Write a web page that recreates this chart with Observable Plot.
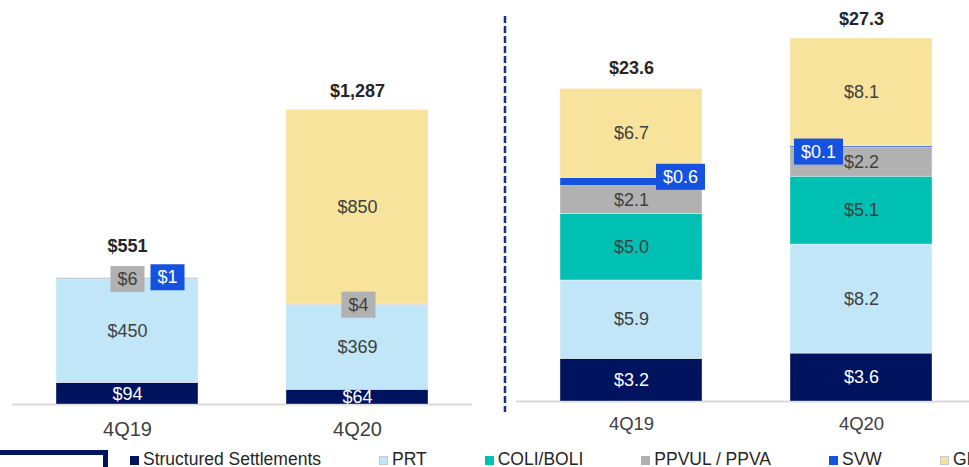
<!DOCTYPE html>
<html><head><meta charset="utf-8">
<script src="https://cdn.jsdelivr.net/npm/d3@7"></script>
<script src="https://cdn.jsdelivr.net/npm/@observablehq/plot@0.6"></script>
<style>
html,body{margin:0;padding:0;background:#fff;}
#wrap{position:relative;width:969px;height:467px;overflow:hidden;font-family:"Liberation Sans",Arial,sans-serif;}
#wrap svg.panel{position:absolute;left:0;top:0;}
#legend{position:absolute;left:130px;top:449px;display:flex;gap:58px;font-size:17.5px;color:#262626;white-space:nowrap;}
#legend .item{display:flex;align-items:center;}
#legend .sw{width:9px;height:9px;box-sizing:border-box;margin-right:4px;margin-top:2px;}
#logo{position:absolute;left:-5px;top:450px;width:113px;height:40px;border:5px solid #00135f;box-sizing:border-box;}
#divider{position:absolute;left:0;top:0;}
</style></head><body>
<div id="wrap"></div>
<script>
// ---- data ----
const categories = ["4Q19", "4Q20"];
const series = ["Structured Settlements", "PRT", "COLI/BOLI", "PPVUL / PPVA", "SVW", "GI"];
const colors = ["#00135f", "#c1e6f7", "#00bfb3", "#b1b1b1", "#1652e0", "#f7e39b"];
// values per series, in category order (left panel)
const leftValues = [
  [94, 64],    // Structured Settlements
  [450, 369],  // PRT
  [0, 0],      // COLI/BOLI
  [6, 4],      // PPVUL / PPVA
  [1, 0],      // SVW
  [0, 850]     // GI
];
const leftTotals = [551, 1287];
const leftTotalLabels = ["$551", "$1,287"];
// right panel
const rightValues = [
  [3.2, 3.6],
  [5.9, 8.2],
  [5.0, 5.1],
  [2.1, 2.2],
  [0.6, 0.1],
  [6.7, 8.1]
];
const rightTotals = [23.6, 27.3];
const rightTotalLabels = ["$23.6", "$27.3"];

// ---- style / layout config ----
const FONT = '"Liberation Sans", Arial, sans-serif';
const W = 969, H = 467;
const boxed = {
  left: {
    "4Q19|PPVUL / PPVA": {dx: 0, dy: 0, fill: "#b1b1b1", text: "#404040"},
    "4Q19|SVW": {dx: 40, dy: -1, fill: "#1652e0", text: "#ffffff"},
    "4Q20|PPVUL / PPVA": {dx: 1, dy: 0, fill: "#b1b1b1", text: "#404040"}
  },
  right: {
    "4Q19|SVW": {dx: 49, dy: -5, fill: "#1652e0", text: "#ffffff"},
    "4Q20|SVW": {dx: -43, dy: 5, fill: "#1652e0", text: "#ffffff"}
  }
};

function rowsFrom(values) {
  const rows = [];
  series.forEach((s, i) => categories.forEach((c, j) => rows.push({cat: c, series: s, value: values[i][j]})));
  return rows;
}

function panel(opts) {
  const {values, fmt, yMax, baseline, marginLeft, marginRight, range, totals, totalLabels, totalDy, axisFont, axisPad, boxes} = opts;
  const rows = rowsFrom(values);
  const key = d => d.cat + "|" + d.series;
  const stack = o => Plot.stackY({x: "cat", y: "value", z: "series", ...o});
  const marks = [
    Plot.ruleY([0], {stroke: "#d9d9d9", strokeWidth: 2}),
    Plot.barY(rows, {x: "cat", y: "value", fill: "series", stroke: "#ffffff", strokeOpacity: 0.45, strokeWidth: 0.8}),
    Plot.text(rows, stack({
      text: d => (d.value === 0 || boxes[key(d)] || d.series !== series[0]) ? null : fmt(d.value),
      fill: "#ffffff", fontSize: 18, fontFamily: FONT
    })),
    Plot.text(rows, stack({
      text: d => (d.value === 0 || boxes[key(d)] || d.series === series[0]) ? null : fmt(d.value),
      fill: "#404040", fontSize: 18, fontFamily: FONT
    }))
  ];
  Object.entries(boxes).forEach(([k, b]) => {
    marks.push(Plot.text(rows, stack({
      text: d => key(d) === k ? fmt(d.value) : null,
      dx: b.dx, dy: b.dy, fill: b.text, fontSize: 18, fontFamily: FONT,
      ariaDescription: "boxlabel " + b.fill
    })));
  });
  categories.forEach((c, j) => {
    marks.push(Plot.text([j], {
      x: () => c, y: () => totals[j], text: () => totalLabels[j],
      dy: totalDy[j], fontWeight: "bold", fontSize: 18, fill: "#262626", fontFamily: FONT
    }));
  });
  return Plot.plot({
    width: W, height: H,
    marginTop: 0, marginBottom: H - baseline, marginLeft, marginRight,
    style: {background: "transparent", fontFamily: FONT, fontSize: axisFont + "px", color: "#404040", overflow: "visible"},
    x: {domain: categories, paddingInner: 0.383, paddingOuter: 0.191, ...(range ? {range} : {}), tickSize: 0, tickPadding: axisPad, label: null},
    y: {domain: [0, yMax], axis: null},
    color: {domain: series, range: colors},
    marks
  });
}

const wrap = document.getElementById("wrap");

const left = panel({
  values: leftValues, fmt: v => "$" + d3.format(",")(v),
  yMax: 1765, baseline: 404, marginLeft: 12, marginRight: W - 472,
  totals: leftTotals, totalLabels: leftTotalLabels, totalDy: [-32, -19],
  axisFont: 20, axisPad: 17, boxes: boxed.left
});
const right = panel({
  values: rightValues, fmt: v => "$" + v.toFixed(1),
  yMax: 401 / 13.3, baseline: 401, marginLeft: 516, marginRight: 0, range: [516, 976],
  totals: rightTotals, totalLabels: rightTotalLabels, totalDy: [-19, -19],
  axisFont: 18.5, axisPad: 15.5, boxes: boxed.right
});
[left, right].forEach(svg => { svg.classList.add("panel"); wrap.appendChild(svg); });

// background boxes behind highlighted small labels (sized from the rendered text)
[left, right].forEach(svg => {
  svg.querySelectorAll("g").forEach(g => {
    const desc = g.getAttribute("aria-description") || "";
    if (!desc.startsWith("boxlabel")) return;
    const fill = desc.split(" ")[1];
    g.querySelectorAll("text").forEach(t => {
      const bb = t.getBBox();
      const r = document.createElementNS("http://www.w3.org/2000/svg", "rect");
      const padX = 7, h = 26;
      r.setAttribute("x", bb.x - padX);
      r.setAttribute("y", bb.y + bb.height / 2 - h / 2);
      r.setAttribute("width", bb.width + 2 * padX);
      r.setAttribute("height", h);
      r.setAttribute("fill", fill);
      const tr = t.getAttribute("transform");
      if (tr) r.setAttribute("transform", tr);
      t.parentNode.insertBefore(r, t);
    });
  });
});

// divider
const div = d3.select(wrap).append("svg").attr("id", "divider").attr("width", W).attr("height", H);
div.append("line").attr("x1", 505).attr("x2", 505).attr("y1", 16).attr("y2", 412)
  .attr("stroke", "#1b2f86").attr("stroke-width", 2.5).attr("stroke-dasharray", "7 3");

// logo fragment
d3.select(wrap).append("div").attr("id", "logo");

// legend
const lg = d3.select(wrap).append("div").attr("id", "legend");
series.forEach((s, i) => {
  const it = lg.append("div").attr("class", "item");
  it.append("div").attr("class", "sw").style("background", colors[i])
    .style("border", (i === 1 || i === 5) ? "1px solid #c8c8c8" : "none");
  it.append("span").text(s);
});
</script>
</body></html>
